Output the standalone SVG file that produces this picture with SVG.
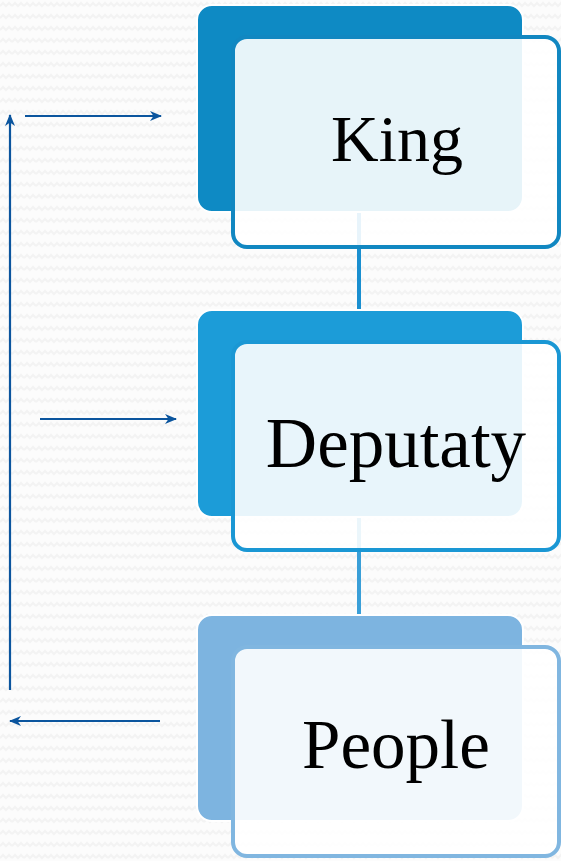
<svg xmlns="http://www.w3.org/2000/svg" width="561" height="861" viewBox="0 0 561 861">
<defs>
<pattern id="bg" width="12" height="12" patternUnits="userSpaceOnUse">
<rect width="12" height="12" fill="#fcfcfc"/>
<path d="M0,6 L3,3 L6,6 L9,3 L12,6" fill="none" stroke="#f3f3f3" stroke-width="2"/>
</pattern>
<marker id="ah" viewBox="0 0 12 10" refX="11" refY="5" markerWidth="12" markerHeight="10" markerUnits="userSpaceOnUse" orient="auto">
<path d="M0,0 L12,5 L0,10 L3.5,5 Z" fill="#0b559e"/>
</marker>
<style>
.back{stroke:#ffffff;stroke-width:2}
.front{fill:#ffffff;fill-opacity:0.9;stroke-width:4}
.lbl{font-family:"Liberation Serif","Times New Roman",serif;fill:#000000;text-anchor:middle}
.arr{stroke:#0b559e;stroke-width:2.2;fill:none}
.conn{stroke-width:4}
</style>
</defs>
<rect width="561" height="861" fill="url(#bg)"/>
<g id="connectors">
<line class="conn" x1="359" y1="212" x2="359" y2="310" stroke="#1a8fd0"/>
<line class="conn" x1="359" y1="513" x2="359" y2="615" stroke="#3a9fd8"/>
<line class="arr" x1="25" y1="116" x2="161" y2="116" marker-end="url(#ah)"/>
<line class="arr" x1="10" y1="690" x2="10" y2="115" marker-end="url(#ah)"/>
<line class="arr" x1="40" y1="419" x2="176" y2="419" marker-end="url(#ah)"/>
<line class="arr" x1="160" y1="721" x2="10" y2="721" marker-end="url(#ah)"/>
</g>
<g id="king">
<rect class="back" x="197" y="5" width="326" height="207" rx="15" fill="#0e8ac4"/>
<rect class="front" x="233" y="37" width="326" height="210" rx="14" stroke="#1187c1"/>
<text class="lbl" x="397" y="161" font-size="66">King</text>
</g>
<g id="deputaty">
<rect class="back" x="197" y="310" width="326" height="207" rx="15" fill="#1c9cd8"/>
<rect class="front" x="233" y="342" width="326" height="208" rx="14" stroke="#1a97d4"/>
<text class="lbl" x="396" y="467" font-size="71">Deputaty</text>
</g>
<g id="people">
<rect class="back" x="197" y="615" width="326" height="206" rx="15" fill="#7db4e0"/>
<rect class="front" x="233" y="647" width="326" height="209" rx="14" stroke="#80b6e0"/>
<text class="lbl" x="396" y="768" font-size="69">People</text>
</g>
</svg>
